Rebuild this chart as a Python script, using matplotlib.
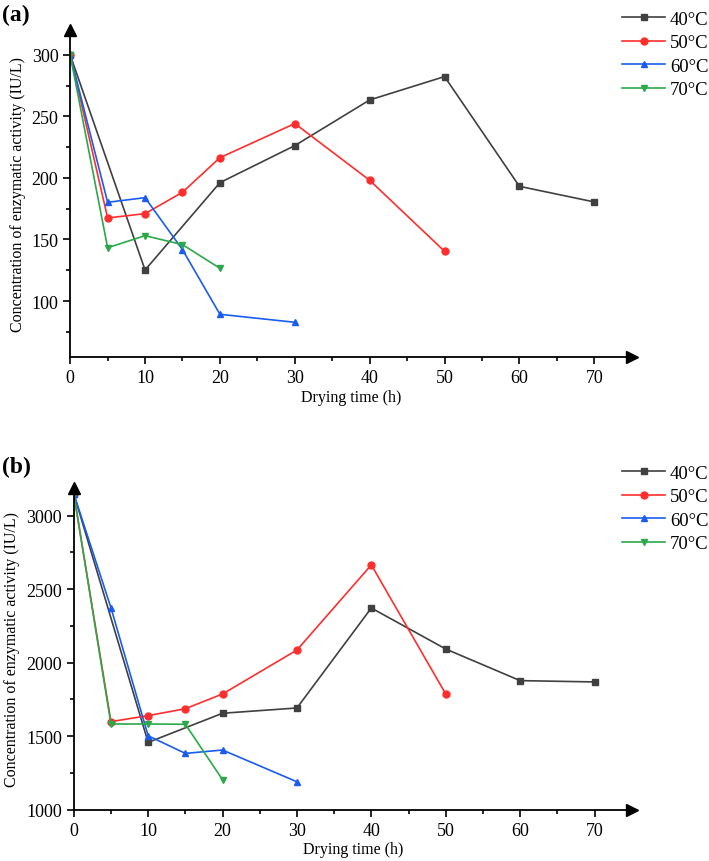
import matplotlib
matplotlib.use("Agg")
import matplotlib.pyplot as plt

plt.rcParams['font.family'] = ['Liberation Serif', 'DejaVu Serif']

labels = ['40°C', '50°C', '60°C', '70°C']
colors = ['#404040', '#ff2e2e', '#1a5cf0', '#2aa84a']
markers = ['s', 'o', '^', 'v']

# panel (a)
a_x = [
    [0, 10, 20, 30, 40, 50, 60, 70],
    [0, 5, 10, 15, 20, 30, 40, 50],
    [0, 5, 10, 15, 20, 30],
    [0, 5, 10, 15, 20],
]
a_y = [
    [300, 125.2, 196.2, 226.3, 263.4, 282.4, 193.2, 180.5],
    [300, 167.5, 171.0, 188.4, 216.5, 244.2, 198.1, 140.4],
    [300, 180.2, 184.0, 141.7, 89.2, 82.7],
    [300, 143.3, 153.1, 145.8, 126.6],
]

# panel (b)
b_x = [
    [0, 10, 20, 30, 40, 50, 60, 70],
    [0, 5, 10, 15, 20, 30, 40, 50],
    [0, 5, 10, 15, 20, 30],
    [0, 5, 10, 15, 20],
]
b_y = [
    [3150, 1458, 1656, 1692, 2372, 2093, 1878, 1869],
    [3150, 1599, 1640, 1687, 1787, 2086, 2665, 1787],
    [3150, 2374, 1503, 1383, 1406, 1190],
    [3150, 1583, 1583, 1581, 1204],
]

fig = plt.figure(figsize=(7.09, 8.62), dpi=100)
ax1 = fig.add_axes([0.099, 0.5847, 0.792, 0.3794])
ax2 = fig.add_axes([0.104, 0.0595, 0.787, 0.3732])


def draw(ax, xs, ys, ylim, yticks, yminor, tag, tag_y, leg_y):
    for x, y, lab, c, m in zip(xs, ys, labels, colors, markers):
        ax.plot(x, y, color=c, marker=m, markersize=5, lw=1.2, label=lab)
    ax.set_xlim(0, 75)
    ax.set_ylim(*ylim)
    ax.set_xticks(range(0, 71, 10))
    ax.set_xticks(range(5, 71, 10), minor=True)
    ax.set_yticks(yticks)
    ax.set_yticks(yminor, minor=True)
    for s in ['top', 'right']:
        ax.spines[s].set_visible(False)
    for s in ['left', 'bottom']:
        ax.spines[s].set_linewidth(1.3)
        ax.spines[s].set_color('black')
    ax.tick_params(which='major', length=5, width=1.2, labelsize=13)
    ax.tick_params(which='minor', length=3, width=1.2)
    # axis arrows
    ax.plot(1, 0, '>k', markersize=9, transform=ax.transAxes, clip_on=False)
    ax.plot(0, 1, '^k', markersize=9, transform=ax.transAxes, clip_on=False)
    ax.set_xlabel('Drying time (h)', fontsize=11.5, labelpad=2)
    ax.set_ylabel('Concentration of enzymatic activity (IU/L)', fontsize=11.5, labelpad=4)
    ax.legend(loc='upper left', bbox_to_anchor=(0.872, leg_y),
              bbox_transform=fig.transFigure, frameon=False,
              fontsize=13.5, handlelength=2.3, handletextpad=0.25,
              labelspacing=0.34, borderaxespad=0.0, borderpad=0.2)
    fig.text(0.003, tag_y, tag, fontsize=17, fontweight='bold',
             ha='left', va='center')


draw(ax1, a_x, a_y, (54.5, 320.3), [100, 150, 200, 250, 300],
     [75, 125, 175, 225, 275], '(a)', 1 - 15 / 862, 1 - 8 / 862)
draw(ax2, b_x, b_y, (1000, 3188), [1000, 1500, 2000, 2500, 3000],
     [1250, 1750, 2250, 2750], '(b)', 1 - 467 / 862, 1 - 462 / 862)

fig.savefig('out.png', dpi=100)
